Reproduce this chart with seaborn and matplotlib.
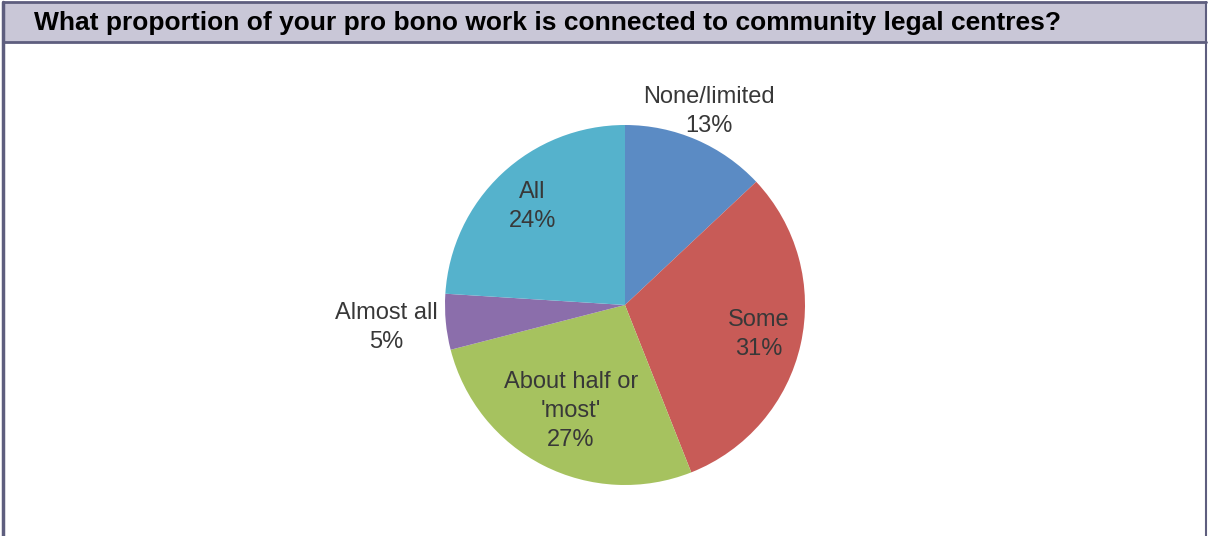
import numpy as np
import matplotlib
matplotlib.use("Agg")
import matplotlib.pyplot as plt
import seaborn as sns
from matplotlib.patches import Rectangle

# ── Data ─────────────────────────────────────────────────
categories = ["None/limited", "Some", "About half or\n'most'", "Almost all", "All"]
shares     = [13, 31, 27, 5, 24]
colors     = ["#5b8bc4", "#c85b57", "#a6c25f", "#8b6eab", "#55b2cc"]
label_dist = [1.17, 0.76, 0.66, 1.33, 0.75]

TITLE = "What proportion of your pro bono work is connected to community legal centres?"

sns.set_theme(style="white")
plt.rcParams["font.family"] = ["Liberation Sans", "DejaVu Sans"]

W, H = 1210, 536
fig = plt.figure(figsize=(W / 100, H / 100), dpi=100)

# ── Frame + header band ──────────────────────────────────
bg = fig.add_axes([0, 0, 1, 1])
bg.set_xlim(0, W)
bg.set_ylim(H, 0)
bg.axis("off")
bg.add_patch(Rectangle((3, 2), 1203, 40, facecolor="#c9c7d7", edgecolor="none"))
edge = "#5e5e7e"
bg.plot([3, 1206], [2, 2], color=edge, lw=2)
bg.plot([3, 1206], [42, 42], color=edge, lw=2)
bg.plot([3, 3], [2, H], color=edge, lw=2.5)
bg.plot([1206, 1206], [2, H], color=edge, lw=1.5)
bg.text(34, 23, TITLE, fontsize=19, fontweight="bold", color="black",
        va="center", ha="left")

# ── Pie ──────────────────────────────────────────────────
cx, cy, r = 625, 305, 180
ax = fig.add_axes([(cx - r) / W, (H - cy - r) / H, 2 * r / W, 2 * r / H])
wedges, _ = ax.pie(shares, colors=colors, startangle=90, counterclock=False,
                   radius=1, wedgeprops=dict(linewidth=0))
ax.set_xlim(-1, 1)
ax.set_ylim(-1, 1)
ax.set_aspect("equal")

for w, name, val, d in zip(wedges, categories, shares, label_dist):
    ang = np.deg2rad((w.theta1 + w.theta2) / 2)
    ax.text(d * np.cos(ang), d * np.sin(ang), f"{name}\n{val}%",
            ha="center", va="center", fontsize=17, color="#383838",
            linespacing=1.4, clip_on=False)

plt.savefig("out.png", dpi=100)
plt.close()
